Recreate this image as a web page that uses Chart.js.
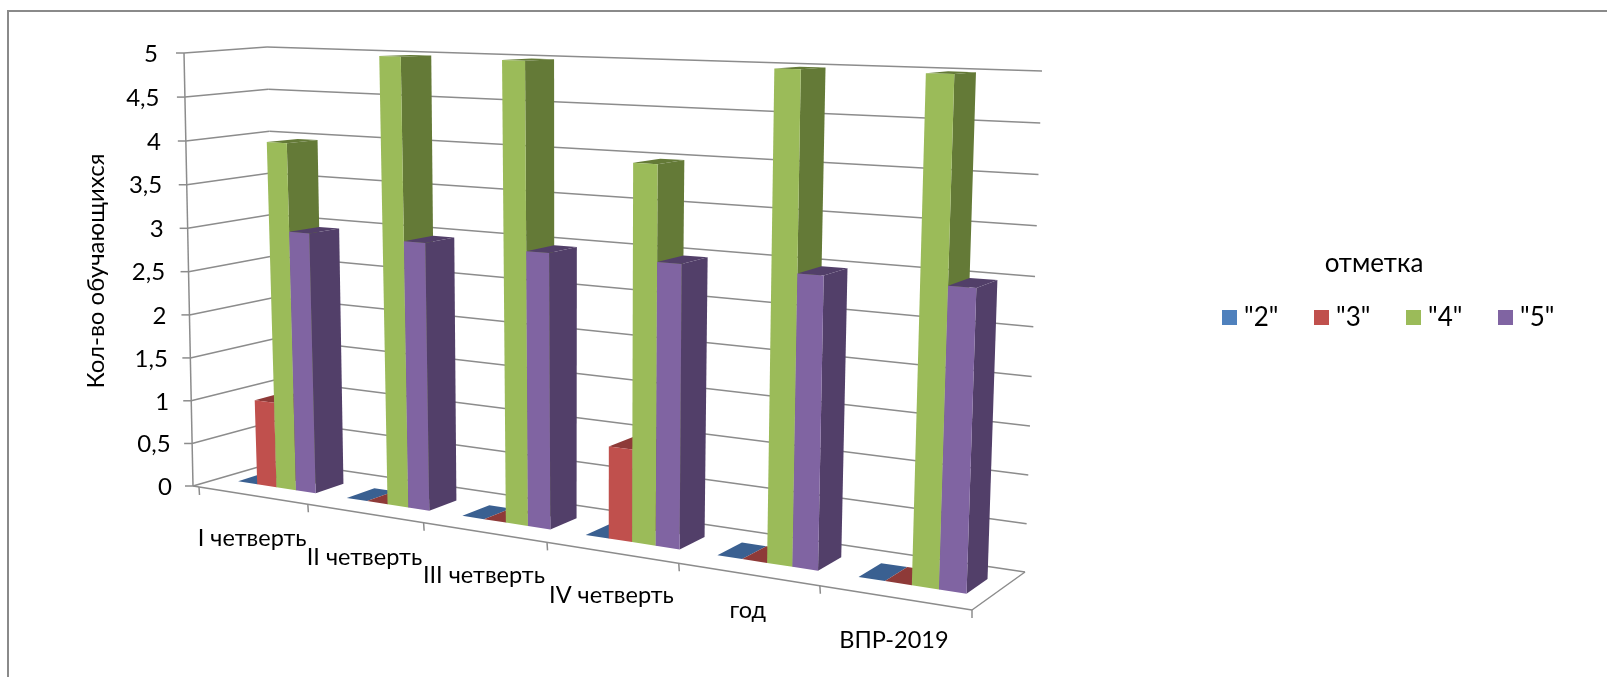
<!DOCTYPE html>
<html>
<head>
<meta charset="utf-8">
<style>
  html, body { margin: 0; padding: 0; background: #fff; }
  canvas { display: block; }
</style>
<script src="https://cdn.jsdelivr.net/npm/chart.js@4"></script>
</head>
<body>
<canvas id="myChart" width="1607" height="677"></canvas>
<script>
const categories = ["I четверть", "II четверть", "III четверть", "IV четверть", "год", "ВПР-2019"];
const grade2 = [0, 0, 0, 0, 0, 0];
const grade3 = [1, 0, 0, 1, 0, 0];
const grade4 = [4, 5, 5, 4, 5, 5];
const grade5 = [3, 3, 3, 3, 3, 3];
const legendTitle = "отметка";
const axisTitle = "Кол-во обучающихся";

const FONT = '"Lato", "Open Sans", sans-serif';
const LINE = "#8c8c8c";
const AREA = {left: 193, right: 972, top: 53, bottom: 486};
const GROUP = 0.72; // part of a category taken by the four bars
const LABEL_DY = [43, 44, 43, 43, 36, 43]; // labels are not quite parallel to the floor edge

// maps the unit square onto a quad: corners are bottom-left, bottom-right, top-right, top-left
function quad(p0, p1, p2, p3) {
  var dx1 = p1[0] - p2[0], dx2 = p3[0] - p2[0], sx = p0[0] - p1[0] + p2[0] - p3[0];
  var dy1 = p1[1] - p2[1], dy2 = p3[1] - p2[1], sy = p0[1] - p1[1] + p2[1] - p3[1];
  var den = dx1 * dy2 - dx2 * dy1;
  var g = (sx * dy2 - dx2 * sy) / den, h = (dx1 * sy - sx * dy1) / den;
  var a = p1[0] - p0[0] + g * p1[0], b = p3[0] - p0[0] + h * p3[0];
  var d = p1[1] - p0[1] + g * p1[1], e = p3[1] - p0[1] + h * p3[1];
  return function(u, v) {
    var w = g * u + h * v + 1;
    return [(a * u + b * v + p0[0]) / w, (d * u + e * v + p0[1]) / w];
  };
}

// back wall
const backWall = quad([279, 461], [1025, 572], [1042, 71], [267, 47]);
// planes through the front and the back of the bars
const barFront = quad([232, 488], [966, 603], [983, 75], [218, 51]);
const barBack = quad([260, 479], [987, 588], [1004, 73], [250, 50]);

// left wall, the steps get a little wider going up
function leftEdge(bottom, top, v) {
  var s = v * 0.98 / (1 - 0.02 * v);
  return [bottom[0] + (top[0] - bottom[0]) * s, bottom[1] + (top[1] - bottom[1]) * s];
}
function leftFront(v) { return leftEdge([193, 486], [184, 53], v); }
function leftBack(v) { return leftEdge([279, 461], [267, 47], v); }

const uMin = (0.5 - GROUP / 2) / 6, uMax = (5.5 + GROUP / 2) / 6;
function barU(px) {
  return ((px - AREA.left) / (AREA.right - AREA.left) - uMin) / (uMax - uMin);
}
function valueV(py) {
  return (AREA.bottom - py) / (AREA.bottom - AREA.top);
}
// point on the front floor edge, ticks get wider to the right
function frontEdge(px) {
  var u = (px - AREA.left) / (AREA.right - AREA.left);
  var t = u * 0.8188 / (1 - 0.1812 * u);
  return [193 + t * (972 - 193), 486 + t * (610 - 486)];
}

function poly(ctx, pts, color) {
  ctx.beginPath();
  ctx.moveTo(pts[0][0], pts[0][1]);
  for (var i = 1; i < pts.length; i++) ctx.lineTo(pts[i][0], pts[i][1]);
  ctx.closePath();
  ctx.fillStyle = color;
  ctx.fill();
}
function line(ctx, a, b) {
  ctx.beginPath();
  ctx.moveTo(a[0], a[1]);
  ctx.lineTo(b[0], b[1]);
  ctx.stroke();
}

// every bar keeps its place from the scales, only the painting goes through the planes
function paintBar(ctx, bar) {
  var p = bar.getProps(["x", "y", "base", "width"]);
  var o = bar.options;
  var u0 = barU(p.x - p.width / 2), u1 = barU(p.x + p.width / 2);
  var vt = valueV(p.y), vb = valueV(p.base);
  poly(ctx, [barFront(u1, vb), barBack(u1, vb), barBack(u1, vt), barFront(u1, vt)], o.borderColor);
  poly(ctx, [barFront(u0, vt), barFront(u1, vt), barBack(u1, vt), barBack(u0, vt)], o.hoverBackgroundColor);
  poly(ctx, [barFront(u0, vb), barFront(u1, vb), barFront(u1, vt), barFront(u0, vt)], o.backgroundColor);
}
// chart.js paints the last dataset first, here the later series has to cover the earlier
Chart.BarElement.prototype.draw = function() {};

const roomPlugin = {
  id: "room",
  beforeDatasetsDraw: function(chart) {
    var ctx = chart.ctx, y = chart.scales.y;
    ctx.save();
    // outer frame
    ctx.strokeStyle = "#8a8a8a";
    ctx.lineWidth = 2;
    ctx.beginPath();
    ctx.moveTo(8, 677);
    ctx.lineTo(8, 11);
    ctx.lineTo(1607, 11);
    ctx.stroke();

    ctx.strokeStyle = LINE;
    ctx.lineWidth = 1.5;
    y.ticks.forEach(function(t) {
      var v = t.value / 5;
      var a = leftFront(v), b = leftBack(v), c = backWall(1, v);
      line(ctx, [a[0] - 8, a[1]], a);
      line(ctx, a, b);
      line(ctx, b, c);
    });
    line(ctx, leftFront(0), leftFront(1));
    line(ctx, [193, 486], [972, 610]);
    line(ctx, [972, 610], [1025, 572]);
    chart.scales.x.ticks.forEach(function(t, i) {
      var px = chart.scales.x.getPixelForTick(i) - (AREA.right - AREA.left) / 12;
      var p = frontEdge(px);
      line(ctx, p, [p[0] + 0.5, p[1] + 8]);
    });
    var last = frontEdge(AREA.right);
    line(ctx, last, [last[0], last[1] + 8]);
    ctx.restore();
  },
  afterDatasetsDraw: function(chart) {
    chart.data.datasets.forEach(function(ds, i) {
      chart.getDatasetMeta(i).data.forEach(function(bar) {
        paintBar(chart.ctx, bar);
      });
    });
  },
  afterDraw: function(chart) {
    var ctx = chart.ctx, y = chart.scales.y, x = chart.scales.x;
    ctx.save();
    ctx.fillStyle = "#000";
    ctx.font = "24px " + FONT;
    ctx.textBaseline = "middle";

    // value labels follow the slanted front edge
    ctx.textAlign = "right";
    y.ticks.forEach(function(t) {
      var p = leftFront(t.value / 5);
      ctx.fillText(t.label, p[0] - 21 - 5 * t.value / 5, p[1] + 1);
    });

    // axis title
    ctx.save();
    ctx.translate(96, 271);
    ctx.rotate(-Math.PI / 2);
    ctx.textAlign = "center";
    ctx.fillText(axisTitle, 0, 0);
    ctx.restore();

    // category labels under the floor
    ctx.font = "23.5px " + FONT;
    ctx.textAlign = "center";
    categories.forEach(function(name, i) {
      var p = frontEdge(x.getPixelForTick(i));
      ctx.fillText(name, p[0] - 1, p[1] + LABEL_DY[i]);
    });

    // legend
    ctx.font = "26px " + FONT;
    ctx.fillText(legendTitle, 1374, 264);
    ctx.textAlign = "left";
    chart.data.datasets.forEach(function(ds, i) {
      var lx = 1222 + i * 92;
      ctx.fillStyle = ds.backgroundColor;
      ctx.fillRect(lx, 310, 15, 15);
      ctx.fillStyle = "#000";
      ctx.fillText(ds.label, lx + 22, 318);
    });
    ctx.restore();
  }
};

new Chart("myChart", {
  type: "bar",
  data: {
    labels: categories,
    datasets: [
      {label: '"2"', data: grade2, backgroundColor: "#4F81BD", borderColor: "#3A6091", hoverBackgroundColor: "#3A6595"},
      {label: '"3"', data: grade3, backgroundColor: "#C0504D", borderColor: "#8E3A38", hoverBackgroundColor: "#8E3A38"},
      {label: '"4"', data: grade4, backgroundColor: "#9BBB59", borderColor: "#647A37", hoverBackgroundColor: "#7C9A45"},
      {label: '"5"', data: grade5, backgroundColor: "#8064A2", borderColor: "#523F69", hoverBackgroundColor: "#664E86"}
    ]
  },
  options: {
    responsive: false,
    animation: false,
    events: [],
    datasets: {bar: {categoryPercentage: GROUP, barPercentage: 1}},
    layout: {padding: {left: AREA.left, right: 1607 - AREA.right, top: AREA.top, bottom: 677 - AREA.bottom}},
    plugins: {legend: {display: false}, tooltip: {enabled: false}},
    scales: {
      x: {grid: {display: false}, border: {display: false}, ticks: {display: false, autoSkip: false}},
      y: {
        min: 0,
        max: 5,
        grid: {display: false},
        border: {display: false},
        ticks: {
          display: false,
          stepSize: 0.5,
          callback: function(v) { return String(v).replace(".", ","); }
        }
      }
    }
  },
  plugins: [roomPlugin]
});
</script>
</body>
</html>
